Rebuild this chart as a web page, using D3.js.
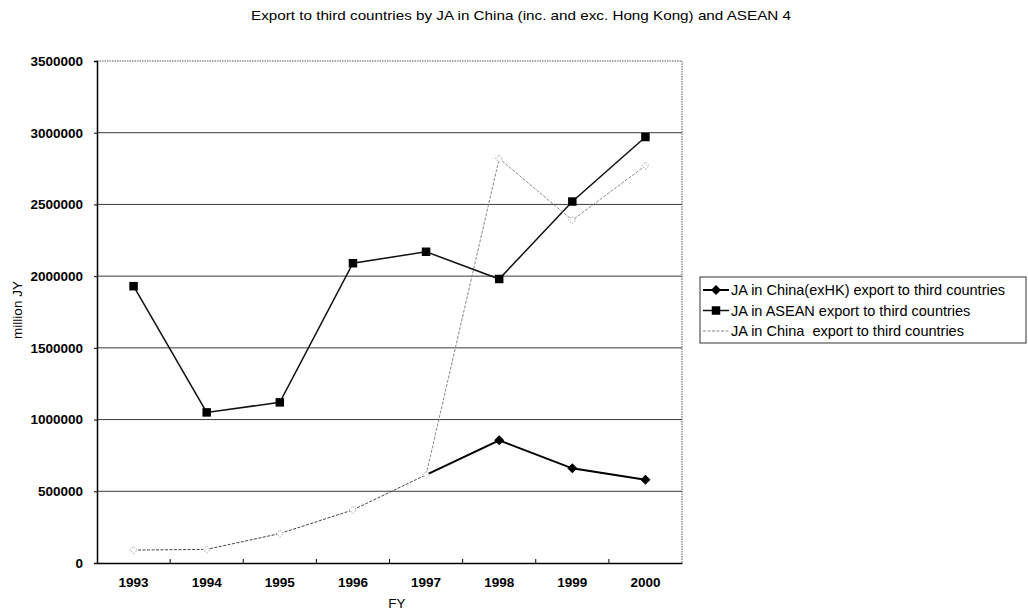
<!DOCTYPE html>
<html>
<head>
<meta charset="utf-8">
<script src="https://cdn.jsdelivr.net/npm/d3@7"></script>
<style>
  html, body { margin: 0; padding: 0; background: #fff; }
  svg { display: block; font-family: "Liberation Sans", Arial, sans-serif; }
</style>
</head>
<body>
<svg id="chart" width="1028" height="615"></svg>
<script>
// Fiscal years on the x axis
const years = ["1993", "1994", "1995", "1996", "1997", "1998", "1999", "2000"];
// Export to third countries, million JY
const chinaExHK = [null, null, null, null, 615000, 855000, 660000, 580000];
const asean = [1930000, 1050000, 1120000, 2090000, 2170000, 1980000, 2520000, 2970000];
const chinaAll = [90000, 95000, 205000, 370000, 615000, 2820000, 2390000, 2770000];
const yTicks = [0, 500000, 1000000, 1500000, 2000000, 2500000, 3000000, 3500000];
const seriesNames = [
  "JA in China(exHK) export to third countries",
  "JA in ASEAN export to third countries",
  "JA in China  export to third countries"
];
const titleText = "Export to third countries by JA in China (inc. and exc. Hong Kong) and ASEAN 4";

const svg = d3.select("#chart");
const plot = { left: 97, right: 682, top: 61, bottom: 563 };

const x = d3.scaleBand().domain(years).range([plot.left, plot.right]);
const y = d3.scaleLinear().domain([0, 3500000]).range([plot.bottom, plot.top]);
const cx = d => x(d) + x.bandwidth() / 2;

// Title
svg.append("text")
  .attr("x", 521).attr("y", 20)
  .attr("text-anchor", "middle")
  .attr("font-size", 13)
  .attr("textLength", 540).attr("lengthAdjust", "spacingAndGlyphs")
  .text(titleText);

// Horizontal gridlines
svg.append("g").selectAll("line")
  .data(yTicks.filter(t => t > 0 && t < 3500000))
  .join("line")
  .attr("x1", plot.left).attr("x2", plot.right)
  .attr("y1", d => y(d)).attr("y2", d => y(d))
  .attr("stroke", "#3a3a3a").attr("stroke-width", 1);

// Plot frame: dotted top and right, solid left and bottom
svg.append("path")
  .attr("d", `M${plot.left},${plot.top}H${plot.right}V${plot.bottom}`)
  .attr("fill", "none").attr("stroke", "#555")
  .attr("stroke-dasharray", "1.5,1").attr("stroke-width", 1);

// Y axis
const yAxis = svg.append("g")
  .attr("transform", `translate(${plot.left},0)`)
  .call(d3.axisLeft(y).tickValues(yTicks).tickSize(3).tickPadding(11).tickFormat(d3.format("d")));
yAxis.select(".domain").attr("stroke", "#000").attr("stroke-width", 1.5);
yAxis.selectAll(".tick line").attr("stroke", "#000");
yAxis.selectAll(".tick text")
  .attr("font-family", "'Liberation Sans', Arial, sans-serif")
  .attr("font-size", 13.5).attr("font-weight", "bold").attr("fill", "#000");

// X axis with ticks between categories pointing inward
const xAxis = svg.append("g")
  .attr("transform", `translate(0,${plot.bottom})`)
  .call(d3.axisBottom(x).tickSize(0).tickPadding(14));
xAxis.select(".domain").attr("stroke", "#000").attr("stroke-width", 1.5);
xAxis.selectAll(".tick text")
  .attr("font-family", "'Liberation Sans', Arial, sans-serif")
  .attr("font-size", 13.5).attr("font-weight", "bold").attr("fill", "#000");
svg.append("g").selectAll("line")
  .data(years.slice(1))
  .join("line")
  .attr("x1", d => x(d)).attr("x2", d => x(d))
  .attr("y1", plot.bottom).attr("y2", plot.bottom - 4)
  .attr("stroke", "#000");

// Axis titles
svg.append("text")
  .attr("x", 397).attr("y", 608)
  .attr("text-anchor", "middle").attr("font-size", 13.5)
  .text("FY");
svg.append("text")
  .attr("transform", "translate(22,310) rotate(-90)")
  .attr("text-anchor", "middle").attr("font-size", 13.5)
  .text("million JY");

// Line generator that skips missing values
const lineGen = d3.line()
  .defined(d => d.v !== null)
  .x(d => cx(d.year))
  .y(d => y(d.v));
const toPoints = arr => years.map((yr, i) => ({ year: yr, v: arr[i] }));

// Rotated square for the diamond markers
const diamond = d3.symbol().type(d3.symbolSquare).size(50);
const square = d3.symbol().type(d3.symbolSquare).size(72);
const faint = d3.symbol().type(d3.symbolSquare).size(26);

// ASEAN series
svg.append("path")
  .attr("d", lineGen(toPoints(asean)))
  .attr("fill", "none").attr("stroke", "#111").attr("stroke-width", 1.5);
svg.append("g").selectAll("path")
  .data(toPoints(asean))
  .join("path")
  .attr("transform", d => `translate(${cx(d.year)},${y(d.v)})`)
  .attr("d", square).attr("fill", "#000");

// China excluding Hong Kong
const exPts = toPoints(chinaExHK).filter(d => d.v !== null);
svg.append("path")
  .attr("d", lineGen(toPoints(chinaExHK)))
  .attr("fill", "none").attr("stroke", "#000").attr("stroke-width", 2);
svg.append("g").selectAll("path")
  .data(exPts.slice(1))
  .join("path")
  .attr("transform", d => `translate(${cx(d.year)},${y(d.v)}) rotate(45)`)
  .attr("d", diamond).attr("fill", "#000");

// China including Hong Kong: darker dashes through the early years, lighter after
const allPts = toPoints(chinaAll);
svg.append("path")
  .attr("d", lineGen(allPts.slice(0, 5)))
  .attr("fill", "none").attr("stroke", "#444").attr("stroke-width", 1)
  .attr("stroke-dasharray", "3,1.5");
svg.append("path")
  .attr("d", lineGen(allPts.slice(4)))
  .attr("fill", "none").attr("stroke", "#888").attr("stroke-width", 1)
  .attr("stroke-dasharray", "3,1.5");
svg.append("g").selectAll("path")
  .data(allPts)
  .join("path")
  .attr("transform", d => `translate(${cx(d.year)},${y(d.v)}) rotate(45)`)
  .attr("d", faint).attr("fill", "#fff")
  .attr("stroke", "#bbb").attr("stroke-width", 1).attr("stroke-dasharray", "1.5,1.5");

// Legend
const lg = svg.append("g").attr("transform", "translate(700,277)");
lg.append("rect")
  .attr("x", 0).attr("y", 0).attr("width", 326).attr("height", 66)
  .attr("fill", "#fff").attr("stroke", "#333").attr("stroke-width", 1);
const legendStyles = [
  { stroke: "#000", width: 2, dash: null, sym: diamond, rot: 45 },
  { stroke: "#111", width: 1.5, dash: null, sym: square, rot: 0 },
  { stroke: "#888", width: 1, dash: "3,1.5", sym: null, rot: 0 }
];
seriesNames.forEach((name, i) => {
  const yy = 13 + i * 20.5;
  const st = legendStyles[i];
  lg.append("line")
    .attr("x1", 3).attr("x2", 29).attr("y1", yy).attr("y2", yy)
    .attr("stroke", st.stroke).attr("stroke-width", st.width)
    .attr("stroke-dasharray", st.dash);
  if (st.sym) {
    lg.append("path")
      .attr("transform", `translate(16,${yy}) rotate(${st.rot})`)
      .attr("d", st.sym).attr("fill", "#000");
  }
  lg.append("text")
    .attr("x", 31).attr("y", yy + 5)
    .attr("font-size", 14.5)
    .style("white-space", "pre")
    .text(name);
});
</script>
</body>
</html>
